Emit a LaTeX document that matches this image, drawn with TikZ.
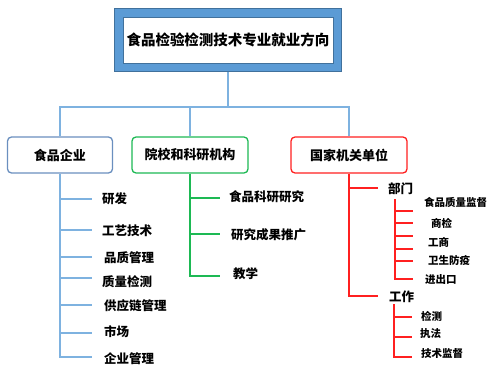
\documentclass[tikz,border=0pt]{standalone}
\usepackage{fontspec}
\setmainfont{Noto Sans CJK SC}
\definecolor{frameblue}{HTML}{5B9BD5}
\definecolor{framedark}{HTML}{41719C}
\definecolor{lineblue}{HTML}{7EB2E0}
\definecolor{boxblue}{HTML}{6A8FBF}
\definecolor{boxgreen}{HTML}{1DB954}
\definecolor{boxred}{HTML}{FF2020}
\begin{document}
\begin{tikzpicture}[x=1pt, y=-1pt, every node/.style={align=center, font=\bfseries, inner sep=0pt}]
\tikzset{
  catbox/.style={draw, rounded corners=4pt, line width=1.3pt, fill=white, minimum width=110pt, minimum height=36pt, font=\bfseries\fontsize{13}{15}\selectfont},
  leaf/.style={anchor=west, font=\bfseries\fontsize{12.5}{14}\selectfont},
  subleaf/.style={anchor=west, font=\bfseries\fontsize{10.5}{12}\selectfont},
  bline/.style={draw=lineblue, line width=1.4pt},
  gline/.style={draw=boxgreen, line width=1.4pt},
  rline/.style={draw=boxred, line width=1.4pt}
}
\useasboundingbox (0,0) rectangle (491,369);

% Title
\node[fill=frameblue, draw=framedark, line width=0.8pt, minimum width=227pt, minimum height=63pt] (titleframe) at (228,40) {};
\node[fill=white, draw=framedark, line width=0.6pt, minimum width=210pt, minimum height=46pt, font=\bfseries\fontsize{14.5}{16}\selectfont] (title) at (228,40) {食品检验检测技术专业就业方向};

% Categories
\node[catbox, draw=boxblue, minimum width=105pt] (food) at (60,155) {食品企业};
\node[catbox, draw=boxgreen, minimum width=116pt] (school) at (190,155) {院校和科研机构};
\node[catbox, draw=boxred, minimum width=116pt] (state) at (349,155) {国家机关单位};

\coordinate (hub) at (228,107);
\draw[bline] (titleframe.south) -- (hub);
\draw[bline] (food.north) |- (hub) -| (state.north);
\draw[bline] (hub -| school.north) -- (school.north);

% 食品企业 (Left)
\node[leaf] (fd_rd) at (102,199) {研发};
\node[leaf] (fd_tech) at (102,231) {工艺技术};
\node[leaf] (fd_qm) at (104,258) {品质管理};
\node[leaf] (fd_qc) at (102,282) {质量检测};
\node[leaf] (fd_sc) at (104,306) {供应链管理};
\node[leaf] (fd_mk) at (104,332) {市场};
\node[leaf] (fd_mg) at (104,359) {企业管理};

\coordinate (fd_t1) at (92,199);
\coordinate (fd_t2) at (92,230);
\coordinate (fd_t3) at (92,257);
\coordinate (fd_t4) at (92,278);
\coordinate (fd_t5) at (92,305);
\coordinate (fd_t6) at (92,333);
\coordinate (fd_t7) at (92,357);

\draw[bline] (food.south) -- (food.south |- fd_t7) -- (fd_t7);
\draw[bline] (fd_t1 -| food.south) -- (fd_t1);
\draw[bline] (fd_t2 -| food.south) -- (fd_t2);
\draw[bline] (fd_t3 -| food.south) -- (fd_t3);
\draw[bline] (fd_t4 -| food.south) -- (fd_t4);
\draw[bline] (fd_t5 -| food.south) -- (fd_t5);
\draw[bline] (fd_t6 -| food.south) -- (fd_t6);

% 院校和科研机构 (Center)
\node[leaf] (sc_res) at (229,197) {食品科研研究};
\node[leaf] (sc_pro) at (231,235) {研究成果推广};
\node[leaf] (sc_edu) at (233,274) {教学};

\coordinate (sc_t1) at (220,198);
\coordinate (sc_t2) at (220,234);
\coordinate (sc_t3) at (220,276);

\draw[gline] (school.south) -- (school.south |- sc_t3) -- (sc_t3);
\draw[gline] (sc_t1 -| school.south) -- (sc_t1);
\draw[gline] (sc_t2 -| school.south) -- (sc_t2);

% 国家机关单位 (Right)
\node[leaf] (st_dep) at (388,189) {部门};
\node[leaf] (st_job) at (389,297) {工作};

\coordinate (st_t1) at (378,188);
\coordinate (st_t2) at (378,296);

\draw[rline] (state.south) -- (state.south |- st_t2) -- (st_t2);
\draw[rline] (st_t1 -| state.south) -- (st_t1);

% 部门
\node[subleaf] (dp_food) at (424,202) {食品质量监督};
\node[subleaf] (dp_insp) at (431,223) {商检};
\node[subleaf] (dp_biz) at (428,242) {工商};
\node[subleaf] (dp_hyg) at (428,260) {卫生防疫};
\node[subleaf] (dp_imp) at (425,280) {进出口};

\coordinate (dp_top) at (395,199);
\coordinate (dp_t1) at (413,211);
\coordinate (dp_t2) at (413,223);
\coordinate (dp_t3) at (413,236);
\coordinate (dp_t4) at (413,249);
\coordinate (dp_t5) at (413,261);
\coordinate (dp_t6) at (413,279);

\draw[rline] (dp_top) -- (dp_top |- dp_t6) -- (dp_t6);
\draw[rline] (dp_t1 -| dp_top) -- (dp_t1);
\draw[rline] (dp_t2 -| dp_top) -- (dp_t2);
\draw[rline] (dp_t3 -| dp_top) -- (dp_t3);
\draw[rline] (dp_t4 -| dp_top) -- (dp_t4);
\draw[rline] (dp_t5 -| dp_top) -- (dp_t5);

% 工作
\node[subleaf] (jb_test) at (421,316) {检测};
\node[subleaf] (jb_law) at (420,334) {执法};
\node[subleaf] (jb_sup) at (421,354) {技术监督};

\coordinate (jb_top) at (394,304);
\coordinate (jb_t1) at (412,317);
\coordinate (jb_t2) at (412,337);
\coordinate (jb_t3) at (412,357);

\draw[rline] (jb_top) -- (jb_top |- jb_t3) -- (jb_t3);
\draw[rline] (jb_t1 -| jb_top) -- (jb_t1);
\draw[rline] (jb_t2 -| jb_top) -- (jb_t2);

\end{tikzpicture}
\end{document}
